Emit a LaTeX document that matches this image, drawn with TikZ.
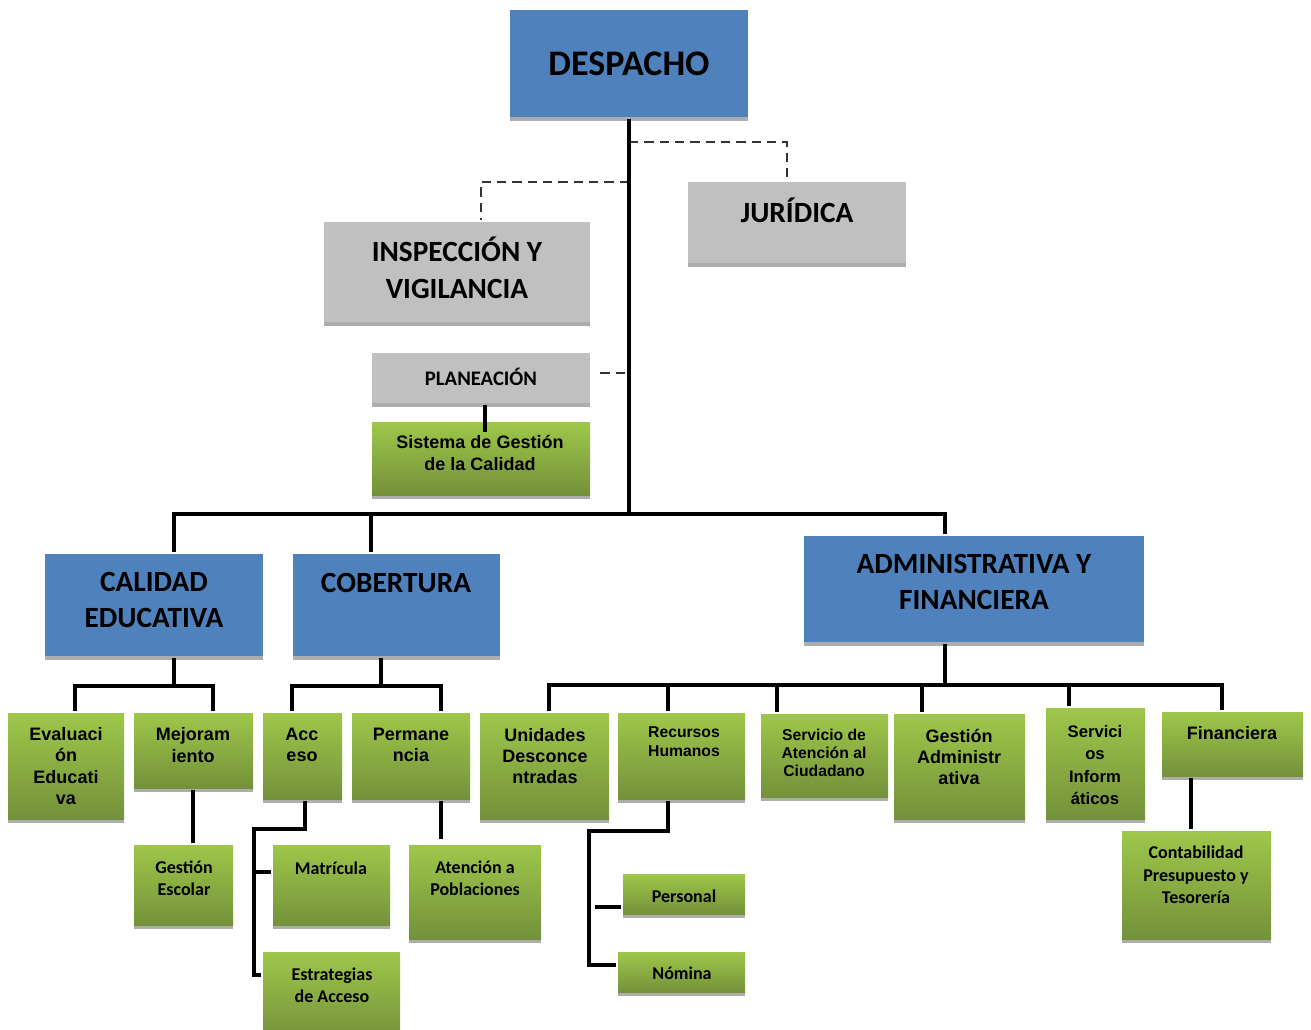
\documentclass[tikz,border=0pt]{standalone}
\usepackage{fontspec}
\newfontfamily\calibri{Carlito}
\newfontfamily\arial{Liberation Sans}
\usetikzlibrary{fit,shadows}
\definecolor{azul}{RGB}{79,129,189}
\definecolor{gris}{RGB}{192,192,192}
\definecolor{verdesup}{RGB}{158,199,74}
\definecolor{verdeinf}{RGB}{116,145,58}

\begin{document}
\begin{tikzpicture}[x=0.75pt, y=-0.75pt, line width=2.6pt,
    caja/.style = {rectangle, inner sep=0pt, general shadow={fill=black!32, shadow yshift=-3pt}},
    azulbox/.style = {caja, fill=azul},
    grisbox/.style = {caja, fill=gris},
    verdebox/.style = {caja, top color=verdesup, bottom color=verdeinf},
    titulo/.style = {font=\calibri\bfseries\fontsize{22}{27.5}\selectfont, align=center, inner sep=0pt},
    txt/.style = {font=\arial\bfseries\fontsize{13.5}{16}\selectfont, align=center, inner sep=0pt},
    txtc/.style = {font=\calibri\bfseries\fontsize{13.5}{16.8}\selectfont, align=center, inner sep=0pt},
    guion/.style = {line width=1.5pt, black!80, dash pattern=on 7pt off 4.5pt}]

    \useasboundingbox (0,0) rectangle (1311,1029);

    % Cajas superiores
    \node[azulbox, fit={(510,10) (748,117)}] (despacho) {};
    \node[grisbox, fit={(688,182) (906,263)}] (juridica) {};
    \node[grisbox, fit={(324,222) (590,322)}] (inspeccion) {};
    \node[grisbox, fit={(372,353) (590,403)}] (planeacion) {};
    \node[verdebox, fit={(372,422) (590,495)}] (sgc) {};

    % Cajas de las secretarias
    \node[azulbox, fit={(45,554) (263,656)}] (calidad) {};
    \node[azulbox, fit={(293,554) (500,656)}] (cobertura) {};
    \node[azulbox, fit={(804,536) (1144,642)}] (admin) {};

    % Cajas verdes
    \node[verdebox, fit={(8,713) (124,819)}] (evaluacion) {};
    \node[verdebox, fit={(134,713) (253,788)}] (mejoramiento) {};
    \node[verdebox, fit={(263,713) (342,799)}] (acceso) {};
    \node[verdebox, fit={(352,713) (470,799)}] (permanencia) {};
    \node[verdebox, fit={(480,713) (609,819)}] (unidades) {};
    \node[verdebox, fit={(618,713) (745,799)}] (recursos) {};
    \node[verdebox, fit={(761,714) (888,797)}] (servicio) {};
    \node[verdebox, fit={(894,714) (1025,819)}] (gestadm) {};
    \node[verdebox, fit={(1046,708) (1145,819)}] (servinf) {};
    \node[verdebox, fit={(1162,712) (1303,776)}] (financiera) {};
    \node[verdebox, fit={(134,845) (233,925)}] (gestesc) {};
    \node[verdebox, fit={(273,845) (390,925)}] (matricula) {};
    \node[verdebox, fit={(263,952) (400,1040)}] (estrategias) {};
    \node[verdebox, fit={(409,845) (541,939)}] (atencion) {};
    \node[verdebox, fit={(1122,831) (1271,939)}] (contab) {};
    \node[verdebox, fit={(623,874) (745,914)}] (personal) {};
    \node[verdebox, fit={(618,952) (745,992)}] (nomina) {};

    % Textos
    \node[titulo, font=\calibri\bfseries\fontsize{27}{32}\selectfont] (t-despacho) at (629,64) {DESPACHO};
    \node[titulo] (t-juridica) at (797,210) {JURÍDICA};
    \node[titulo] (t-inspeccion) at (457,268) {INSPECCIÓN Y\\VIGILANCIA};
    \node[titulo, font=\calibri\bfseries\fontsize{15.5}{18}\selectfont] (t-planeacion) at (481,377) {PLANEACIÓN};
    \node[txt] (t-sgc) at (480,453) {Sistema de Gestión\\de la Calidad};
    \node[titulo] (t-calidad) at (154,600) {CALIDAD\\EDUCATIVA};
    \node[titulo] (t-cobertura) at (396,583) {COBERTURA};
    \node[titulo] (t-admin) at (974,582) {ADMINISTRATIVA Y\\FINANCIERA};

    \node[txt] (t-evaluacion) at (66,766) {Evaluaci\\ón\\Educati\\va};
    \node[txt] (t-mejoramiento) at (193,745) {Mejoram\\iento};
    \node[txt] (t-acceso) at (302,745) {Acc\\eso};
    \node[txt] (t-permanencia) at (411,745) {Permane\\ncia};
    \node[txt] (t-unidades) at (545,756) {Unidades\\Desconce\\ntradas};
    \node[txt, font=\arial\bfseries\fontsize{11.8}{14.3}\selectfont] (t-recursos) at (684,742) {Recursos\\Humanos};
    \node[txt, font=\arial\bfseries\fontsize{11.8}{13.5}\selectfont] (t-servicio) at (824,753) {Servicio de\\Atención al\\Ciudadano};
    \node[txt] (t-gestadm) at (959,757) {Gestión\\Administr\\ativa};
    \node[txt, font=\arial\bfseries\fontsize{12.5}{16.7}\selectfont] (t-servinf) at (1095,765) {Servici\\os\\Inform\\áticos};
    \node[txt] (t-financiera) at (1232,733) {Financiera};
    \node[txtc] (t-gestesc) at (184,878) {Gestión\\Escolar};
    \node[txtc] (t-matricula) at (331,868) {Matrícula};
    \node[txtc] (t-estrategias) at (332,985) {Estrategias\\de Acceso};
    \node[txtc] (t-atencion) at (475,878) {Atención a\\Poblaciones};
    \node[txtc] (t-contab) at (1196,875) {Contabilidad\\Presupuesto y\\Tesorería};
    \node[txtc] (t-personal) at (684,896) {Personal};
    \node[txtc] (t-nomina) at (682,973) {Nómina};

    % Puntos de union
    \coordinate (d0) at (629,514);
    \coordinate (dj) at (629,142);
    \coordinate (jd) at (787,142);
    \coordinate (di) at (629,182);
    \coordinate (id) at (481,182);
    \coordinate (dp) at (625,373);
    \coordinate (ps) at (485,432);
    \coordinate (b1) at (174,514);
    \coordinate (b2) at (371,514);
    \coordinate (b3) at (945,514);
    \coordinate (c0) at (174,686);
    \coordinate (c1) at (75,686);
    \coordinate (c2) at (213,686);
    \coordinate (k0) at (381,686);
    \coordinate (k1) at (292,686);
    \coordinate (k2) at (441,686);
    \coordinate (m0) at (193,800);
    \coordinate (a0) at (305,829);
    \coordinate (a1) at (254,829);
    \coordinate (a2) at (254,975);
    \coordinate (a3) at (254,872);
    \coordinate (f0) at (945,685);
    \coordinate (f1) at (549,685);
    \coordinate (f2) at (668,685);
    \coordinate (f3) at (777,685);
    \coordinate (f4) at (922,685);
    \coordinate (f5) at (1069,685);
    \coordinate (f6) at (1222,685);
    \coordinate (r0) at (668,831);
    \coordinate (r1) at (589,831);
    \coordinate (r2) at (589,965);
    \coordinate (r3) at (595,907);
    \coordinate (n0) at (1191,800);

    % Conectores punteados
    \draw[guion] (dj) -- (jd) -- (jd |- juridica.north);
    \draw[guion] (di) -- (id) -- (id |- inspeccion.north);
    \draw[guion] (dp) -- ([xshift=4pt]dp -| planeacion.east);

    % Conectores
    \draw (despacho) -- (d0);
    \draw (ps |- planeacion.south) -- (ps);
    \draw (b1 |- calidad.north) -- (b1) -- (b3) -- (b3 |- admin.north);
    \draw (b2) -- (b2 |- cobertura.north);

    \draw (calidad.south -| c0) -- (c0);
    \draw (c1 |- evaluacion.north) -- (c1) -- (c2) -- (c2 |- mejoramiento.north);
    \draw (m0 |- mejoramiento.south) -- (m0 |- gestesc.north);

    \draw (cobertura.south -| k0) -- (k0);
    \draw (k1 |- acceso.north) -- (k1) -- (k2) -- (k2 |- permanencia.north);
    \draw (acceso.south -| a0) -- (a0) -- (a1) -- (a2) -- (a2 -| estrategias.west);
    \draw (a3) -- (a3 -| matricula.west);
    \draw (permanencia.south -| k2) -- ([yshift=3pt]k2 |- atencion.north);

    \draw (admin.south -| f0) -- (f0);
    \draw (f1 |- unidades.north) -- (f1) -- (f6) -- (f6 |- financiera.north);
    \draw (f2) -- (f2 |- recursos.north);
    \draw (f3) -- (f3 |- servicio.north);
    \draw (f4) -- (f4 |- gestadm.north);
    \draw (f5) -- (f5 |- servinf.north);
    \draw (recursos.south -| r0) -- (r0) -- (r1) -- (r2) -- (r2 -| nomina.west);
    \draw (r3) -- (r3 -| personal.west);
    \draw (n0 |- financiera.south) -- (n0 |- contab.north);

\end{tikzpicture}
\end{document}
